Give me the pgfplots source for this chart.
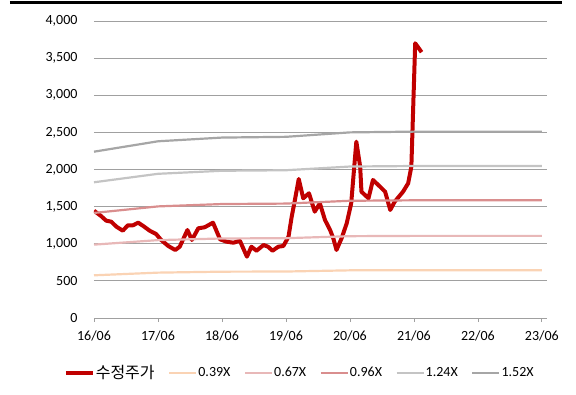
\documentclass[border=0pt]{standalone}
\usepackage{fontspec}
\setmainfont{Carlito}
\newfontfamily\krfont{Noto Sans CJK KR}
\usepackage{pgfplots}
\pgfplotsset{compat=1.18}
\usepackage{pgfplotstable}

\definecolor{price}{HTML}{C00000}
\definecolor{bandA}{HTML}{FAD3B4}
\definecolor{bandB}{HTML}{E8B8B8}
\definecolor{bandC}{HTML}{D98E8E}
\definecolor{bandD}{HTML}{C4C4C4}
\definecolor{bandE}{HTML}{A6A6A6}
\definecolor{gridc}{HTML}{A0A0A0}

% adjusted share price; t = years since 16/06
\pgfplotstableread{
t v
0.00 1445
0.11 1374
0.19 1311
0.27 1297
0.35 1230
0.45 1176
0.53 1249
0.61 1249
0.69 1284
0.77 1239
0.87 1176
0.97 1131
1.05 1051
1.16 970
1.27 916
1.34 960
1.46 1185
1.53 1051
1.63 1208
1.73 1222
1.86 1284
1.97 1060
2.07 1028
2.18 1014
2.28 1041
2.39 826
2.46 960
2.54 906
2.65 983
2.72 960
2.79 906
2.88 960
2.96 970
3.04 1095
3.09 1364
3.14 1589
3.20 1872
3.27 1612
3.36 1680
3.45 1432
3.53 1545
3.61 1320
3.69 1185
3.74 1074
3.79 916
3.87 1074
3.95 1276
4.02 1545
4.10 2375
4.16 2038
4.18 1701
4.29 1612
4.36 1859
4.47 1769
4.55 1701
4.63 1455
4.70 1567
4.83 1701
4.91 1814
4.96 2038
5.02 3700
5.12 3580
}\pricetable

% PBR bands
\pgfplotstableread{
t a b c d e
0 575 988 1415 1828 2240
1 611 1049 1503 1942 2380
2 624 1071 1535 1983 2430
3 626 1075 1541 1990 2440
4 642 1102 1579 2040 2500
5 644 1106 1585 2047 2510
6 644 1106 1585 2047 2510
7 644 1106 1585 2047 2510
}\bandtable

\begin{document}
\begin{tikzpicture}
\begin{axis}[
  at={(0pt,0pt)}, anchor=south west,
  scale only axis, width=453pt, height=297pt,
  xmin=0, xmax=7.08, ymin=0, ymax=4000,
  axis line style={draw=none},
  xtick={0,1,2,3,4,5,6,7},
  xticklabels={16/06,17/06,18/06,19/06,20/06,21/06,22/06,23/06},
  ytick={0,500,...,4000},
  xtick pos=bottom,
  tick align=outside, major tick length=4pt,
  xtick style={gridc, line width=0.8pt},
  ytick style={draw=none},
  ymajorgrids, grid style={gridc, line width=0.8pt},
  tick label style={font=\fontsize{14}{16}\selectfont},
  /pgf/number format/assume math mode=true,
  /pgf/number format/1000 sep={,},
  yticklabel style={xshift=-9pt},
  xticklabel style={yshift=-5pt},
  legend style={at={(0.453,-0.185)}, anchor=center, draw=none, fill=none,
    font=\fontsize{14}{16}\selectfont,
    /tikz/every even column/.append style={column sep=12.5pt},
    nodes={inner sep=1pt}},
  legend columns=6,
  legend cell align=left,
  legend image code/.code={\draw[#1] (0pt,0pt) -- (27pt,0pt);},
]
\addplot[price, line width=4pt, line join=round] table[x=t, y=v] {\pricetable};
\addlegendentry{{\krfont\fontsize{16}{18}\selectfont 수정주가}}
\addplot[bandA, line width=2.2pt] table[x=t, y=a] {\bandtable};
\addlegendentry{0.39X}
\addplot[bandB, line width=2.2pt] table[x=t, y=b] {\bandtable};
\addlegendentry{0.67X}
\addplot[bandC, line width=2.2pt] table[x=t, y=c] {\bandtable};
\addlegendentry{0.96X}
\addplot[bandD, line width=2.2pt] table[x=t, y=d] {\bandtable};
\addlegendentry{1.24X}
\addplot[bandE, line width=2.2pt] table[x=t, y=e] {\bandtable};
\addlegendentry{1.52X}
\end{axis}
\pgfresetboundingbox
\path (-94pt,-76pt) rectangle (482pt,318pt);
\draw[line width=3pt, black] (-84pt,315.5pt) -- (468pt,315.5pt);
\end{tikzpicture}
\end{document}
